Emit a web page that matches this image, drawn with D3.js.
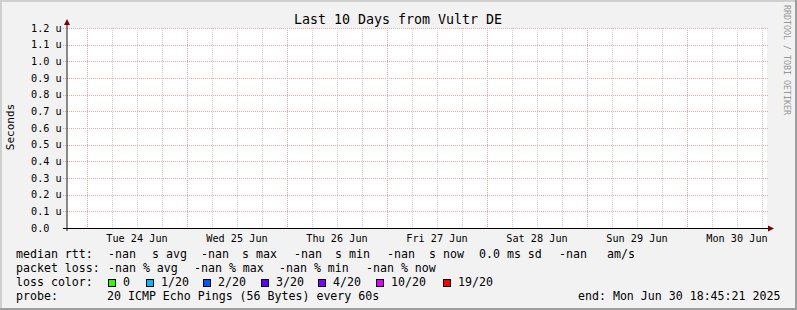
<!DOCTYPE html>
<html>
<head>
<meta charset="utf-8">
<script src="https://cdn.jsdelivr.net/npm/d3@7"></script>
<style>
  body { margin: 0; background: #f2f2f2; }
  svg text { font-family: "DejaVu Sans Mono", monospace; fill: #000; }
</style>
</head>
<body>
<div id="graph"></div>
<script>
// chart data (all samples are NaN for this period)
let medianRtt = [];
let yTicks = [0, 0.1e-6, 0.2e-6, 0.3e-6, 0.4e-6, 0.5e-6, 0.6e-6, 0.7e-6, 0.8e-6, 0.9e-6, 1.0e-6, 1.1e-6, 1.2e-6];
let dayLabels = ["Tue 24 Jun", "Wed 25 Jun", "Thu 26 Jun", "Fri 27 Jun", "Sat 28 Jun", "Sun 29 Jun", "Mon 30 Jun"];
let lossLabels = ["0", "1/20", "2/20", "3/20", "4/20", "10/20", "19/20"];
let lossColors = ["#26ff00", "#00b8ff", "#0059ff", "#5e00ff", "#7e00ff", "#dd00ff", "#ff0000"];
let rttLegend = ["-nan", "s avg", "-nan", "s max", "-nan", "s min", "-nan", "s now", "0.0 ms sd", "-nan", "am/s"];
let lossLegend = ["-nan % avg", "-nan % max", "-nan % min", "-nan % now"];

let svgWidth = 797;
let svgHeight = 310;

//Plot area
let plot = { left: 67, right: 767, top: 28, bottom: 228 };

let svg = d3.select("#graph")
  .append("svg")
  .attr("width", svgWidth)
  .attr("height", svgHeight);

//Background and 3D shade border
svg.append("rect").attr("width", svgWidth).attr("height", svgHeight).attr("fill", "#f2f2f2");
svg.append("rect").attr("x", 0).attr("y", 0).attr("width", svgWidth).attr("height", 2).attr("fill", "#cfcfcf");
svg.append("rect").attr("x", 0).attr("y", 0).attr("width", 2).attr("height", svgHeight).attr("fill", "#cfcfcf");
svg.append("rect").attr("x", 0).attr("y", svgHeight - 2).attr("width", svgWidth).attr("height", 2).attr("fill", "#9e9e9e");
svg.append("rect").attr("x", svgWidth - 2).attr("y", 0).attr("width", 2).attr("height", svgHeight).attr("fill", "#9e9e9e");

//Canvas
svg.append("rect")
  .attr("x", plot.left).attr("y", plot.top)
  .attr("width", plot.right - plot.left).attr("height", plot.bottom - plot.top)
  .attr("fill", "#ffffff");

//Scales
let start = new Date(Date.UTC(2025, 5, 23, 19, 12));
let end = new Date(Date.UTC(2025, 5, 30, 19, 12));
let x = d3.scaleUtc().domain([start, end]).range([plot.left, plot.right]);
let y = d3.scaleLinear().domain([0, 1.2e-6]).range([plot.bottom, plot.top]);

let minorTimes = d3.utcHour.every(6).range(start, end).filter(d => d.getUTCHours() !== 0);
let majorTimes = d3.utcDay.range(start, end);

//Minor vertical grid
svg.append("g").selectAll("line")
  .data(minorTimes)
  .enter()
  .append("line")
  .attr("x1", d => Math.round(x(d)) + 0.5)
  .attr("x2", d => Math.round(x(d)) + 0.5)
  .attr("y1", plot.top)
  .attr("y2", plot.bottom + 2)
  .attr("stroke", "#cfcfcf")
  .attr("stroke-dasharray", "1,1");

//Major vertical grid
svg.append("g").selectAll("line")
  .data(majorTimes)
  .enter()
  .append("line")
  .attr("x1", d => Math.round(x(d)) + 0.5)
  .attr("x2", d => Math.round(x(d)) + 0.5)
  .attr("y1", plot.top)
  .attr("y2", plot.bottom + 2)
  .attr("stroke", "#eba3a3")
  .attr("stroke-dasharray", "1,1");

//Horizontal grid
svg.append("g").selectAll("line")
  .data(yTicks.slice(1))
  .enter()
  .append("line")
  .attr("x1", plot.left - 4)
  .attr("x2", plot.right + 1)
  .attr("y1", d => Math.round(y(d)) + 0.5)
  .attr("y2", d => Math.round(y(d)) + 0.5)
  .attr("stroke", "#eba3a3")
  .attr("stroke-dasharray", "1,1");

//Median RTT line (no samples)
let line = d3.line().x(d => x(d.time)).y(d => y(d.value)).defined(d => !isNaN(d.value));
svg.append("path").datum(medianRtt).attr("d", line).attr("fill", "none").attr("stroke", "#26ff00");

//Axes
svg.append("line")
  .attr("x1", plot.left - 4).attr("x2", plot.right + 2)
  .attr("y1", plot.bottom + 0.5).attr("y2", plot.bottom + 0.5)
  .attr("stroke", "#000");
svg.append("line")
  .attr("x1", plot.left).attr("x2", plot.left)
  .attr("y1", plot.bottom + 3).attr("y2", plot.top - 6)
  .attr("stroke", "#1a1a1a");

//Arrows
svg.append("path")
  .attr("d", `M${plot.left - 3},${plot.top - 3} L${plot.left + 3},${plot.top - 3} L${plot.left},${plot.top - 9} Z`)
  .attr("fill", "#800000");
svg.append("path")
  .attr("d", `M${plot.right + 1},${plot.bottom - 2.5} L${plot.right + 1},${plot.bottom + 3.5} L${plot.right + 7},${plot.bottom + 0.5} Z`)
  .attr("fill", "#800000");

//Y tick labels
svg.append("g").selectAll("text")
  .data(yTicks)
  .enter()
  .append("text")
  .attr("x", 31)
  .attr("y", d => y(d) + 3.5)
  .style("font-size", "10.2px")
  .text(d => d === 0 ? "0.0" : (d * 1e6).toFixed(1) + " u");

//X labels at noon of each day
svg.append("g").selectAll("text")
  .data(dayLabels)
  .enter()
  .append("text")
  .attr("x", (d, i) => x(d3.utcHour.offset(majorTimes[i], 12)))
  .attr("y", 241.5)
  .style("font-size", "10.2px")
  .style("text-anchor", "middle")
  .text(d => d);

//Title
svg.append("text")
  .attr("x", 398)
  .attr("y", 24)
  .style("font-size", "13.3px")
  .style("text-anchor", "middle")
  .text("Last 10 Days from Vultr DE");

//Vertical axis label
svg.append("text")
  .attr("transform", "translate(14, 127) rotate(-90)")
  .style("font-size", "11px")
  .style("text-anchor", "middle")
  .text("Seconds");

//Watermark
svg.append("text")
  .attr("transform", "translate(784, 5) rotate(90)")
  .style("font-size", "8.3px")
  .style("fill", "#969696")
  .text("RRDTOOL / TOBI OETIKER");

//Legend
let legend = svg.append("g").style("font-size", "11.6px");
let rttX = [108, 152, 201, 242, 294, 335, 387, 429, 479, 559, 607];
let lossX = [108, 194, 279, 366];
let boxX = [108, 146, 203, 261, 318, 376, 443];

legend.append("text").attr("x", 16).attr("y", 258).text("median rtt:");
legend.selectAll(".rtt")
  .data(rttLegend)
  .enter()
  .append("text")
  .attr("x", (d, i) => rttX[i])
  .attr("y", 258)
  .text(d => d);

legend.append("text").attr("x", 16).attr("y", 272).text("packet loss:");
legend.selectAll(".loss")
  .data(lossLegend)
  .enter()
  .append("text")
  .attr("x", (d, i) => lossX[i])
  .attr("y", 272)
  .text(d => d);

legend.append("text").attr("x", 16).attr("y", 286).text("loss color:");
legend.selectAll("rect")
  .data(lossColors)
  .enter()
  .append("rect")
  .attr("x", (d, i) => boxX[i] + 0.5)
  .attr("y", 279.5)
  .attr("width", 7)
  .attr("height", 7)
  .attr("fill", d => d)
  .attr("stroke", "#000");
legend.selectAll(".lossLabel")
  .data(lossLabels)
  .enter()
  .append("text")
  .attr("x", (d, i) => boxX[i] + 15)
  .attr("y", 286)
  .text(d => d);

legend.append("text").attr("x", 16).attr("y", 300).text("probe:");
legend.append("text").attr("x", 107).attr("y", 300).text("20 ICMP Echo Pings (56 Bytes) every 60s");
legend.append("text").attr("x", 578).attr("y", 300).text("end: Mon Jun 30 18:45:21 2025");
</script>
</body>
</html>
